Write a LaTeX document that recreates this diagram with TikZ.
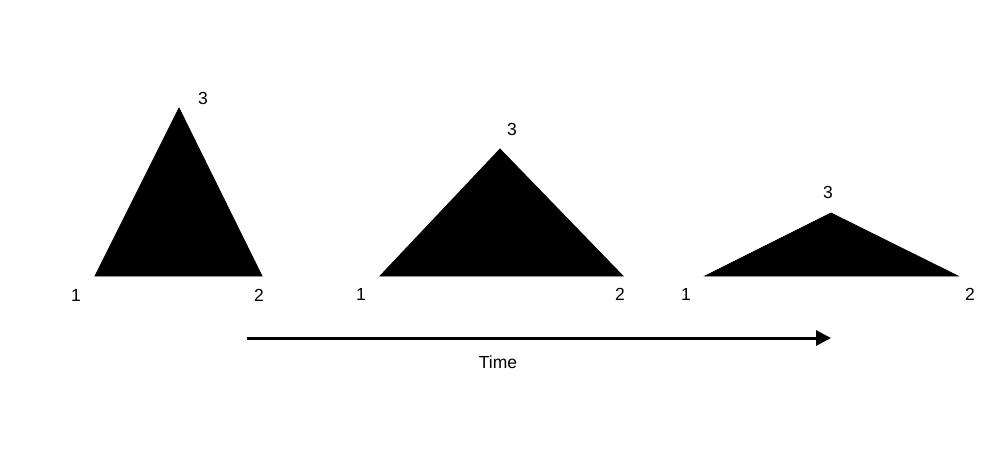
\documentclass[tikz,border=0pt]{standalone}
\usepackage{fontspec}
\setmainfont{Liberation Sans}
\usetikzlibrary{arrows.meta}
\begin{document}
\begin{tikzpicture}[x=1pt,y=-1pt,
  tri/.style={fill=black,draw=black,line width=0.8pt,line join=miter},
  lbl/.style={font=\fontsize{17.5}{20}\selectfont,inner sep=0pt}]
\useasboundingbox (0,0) rectangle (1000,450);
% triangle 1
\coordinate (a1) at (95,276);
\coordinate (b1) at (262,276);
\coordinate (c1) at (179,108);
\draw[tri] (a1) -- (b1) -- (c1) -- cycle;
\node[lbl] (l11) at (76,295) {1};
\node[lbl] (l12) at (259,295) {2};
\node[lbl] (l13) at (203,98) {3};
% triangle 2
\coordinate (a2) at (380,276);
\coordinate (b2) at (623,276);
\coordinate (c2) at (500,149);
\draw[tri] (a2) -- (b2) -- (c2) -- cycle;
\node[lbl] (l21) at (361,294) {1};
\node[lbl] (l22) at (620,294) {2};
\node[lbl] (l23) at (512,129) {3};
% triangle 3
\coordinate (a3) at (705,276);
\coordinate (b3) at (958,276);
\coordinate (c3) at (831,213);
\draw[tri] (a3) -- (b3) -- (c3) -- cycle;
\node[lbl] (l31) at (686,294) {1};
\node[lbl] (l32) at (970,294) {2};
\node[lbl] (l33) at (828,192) {3};
% time arrow
\coordinate (t0) at (247,338);
\coordinate (t1) at (831,338);
\draw[line width=3pt,-{Triangle[length=15pt,width=15pt]}] (t0) -- (t1);
\node[lbl] (time) at (498,362) {Time};
\end{tikzpicture}
\end{document}
